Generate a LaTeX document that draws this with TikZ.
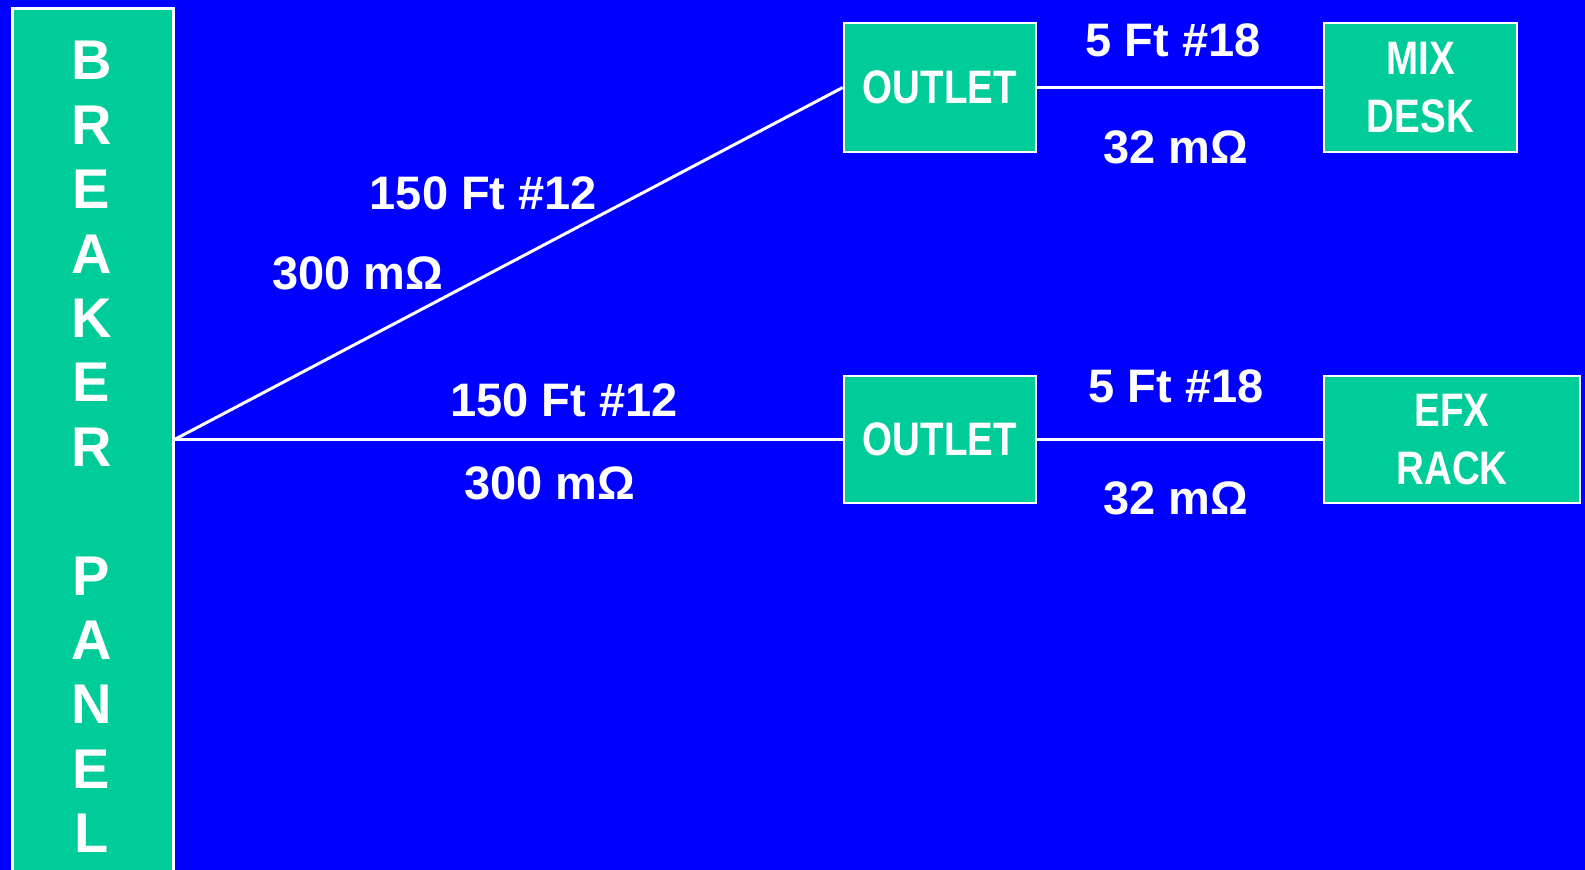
\documentclass[tikz,border=0pt]{standalone}
\usepackage{fontspec}
\setmainfont{Liberation Sans}
\newfontfamily\narrowsf[FakeStretch=0.82]{Liberation Sans}
\definecolor{bgblue}{RGB}{0,0,255}
\definecolor{boxgreen}{RGB}{0,204,153}
\tikzset{
  unit/.style={draw=white,fill=boxgreen,line width=2.5pt,inner sep=0pt,
    minimum height=129pt,align=center,text=white,
    font=\narrowsf\bfseries\fontsize{47}{58}\selectfont},
  lbl/.style={text=white,inner sep=0pt,font=\bfseries\fontsize{47}{56}\selectfont},
  wire/.style={draw=white,line width=3pt}
}
\begin{document}
\begin{tikzpicture}[x=1pt,y=-1pt]
  \clip (0,0) rectangle (1585,870);
  \fill[bgblue] (0,0) rectangle (1585,870);
  % breaker panel runs off the bottom edge
  \node[unit,minimum width=161pt,minimum height=900pt,anchor=north west] (panel) at (11,7) {};
  \foreach \l [count=\i] in {B,R,E,A,K,E,R,{},P,A,N,E,L}
    \node[text=white,inner sep=0pt,font=\bfseries\fontsize{56}{64}\selectfont] (p\i) at (91.5,{60.7+64.4*(\i-1)}) {\l};
  % outlets and loads
  \node[unit,minimum width=192pt] (out1) at (940,87.5) {OUTLET};
  \node[unit,minimum width=193pt] (mix) at (1420.5,87.5) {MIX\\DESK};
  \node[unit,minimum width=192pt,minimum height=127pt] (out2) at (940,439.5) {OUTLET};
  \node[unit,minimum width=256pt,minimum height=127pt] (efx) at (1452,439.5) {EFX\\RACK};
  \coordinate (tap) at (panel.east |- out2.west);
  \draw[wire] (tap) -- (out1.west);
  \draw[wire] (tap) -- (out2.west);
  \draw[wire] (out1.east) -- (mix.west);
  \draw[wire] (out2.east) -- (efx.west);
  % cable labels
  \node[lbl] (run1) at (483.5,193) {150 Ft \#12};
  \node[lbl] (res1) at (358,273) {300 mΩ};
  \node[lbl] (run2) at (564,400) {150 Ft \#12};
  \node[lbl] (res2) at (550,483) {300 mΩ};
  \node[lbl] (cord1) at (1173,40) {5 Ft \#18};
  \node[lbl] (cres1) at (1176,147) {32 mΩ};
  \node[lbl] (cord2) at (1176,386) {5 Ft \#18};
  \node[lbl] (cres2) at (1176,498) {32 mΩ};
\end{tikzpicture}
\end{document}
